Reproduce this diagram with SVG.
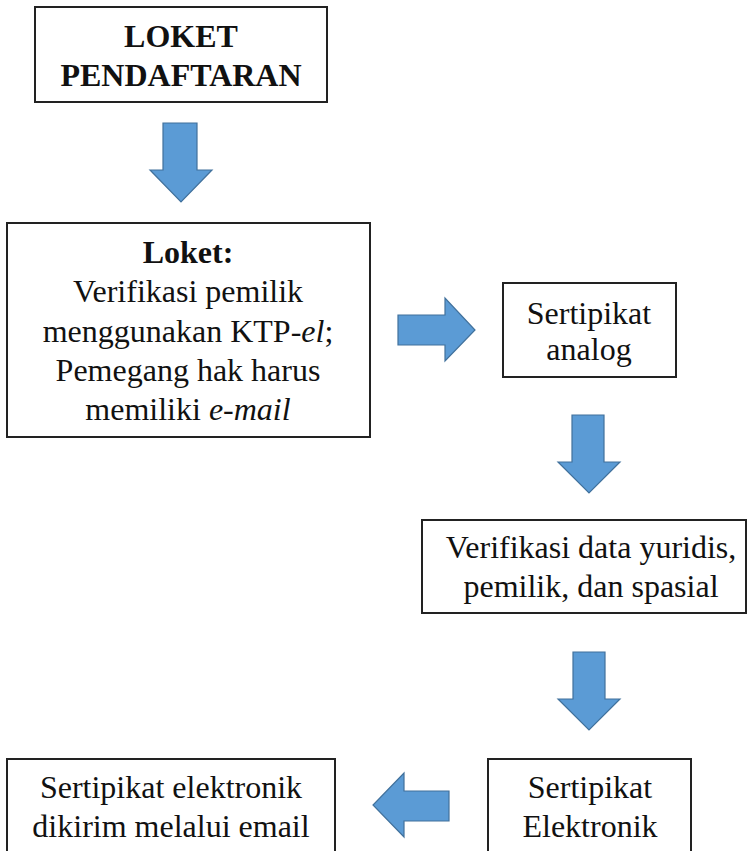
<svg xmlns="http://www.w3.org/2000/svg" width="748" height="851" viewBox="0 0 748 851">
<style>
.box{fill:#fff;stroke:#222;stroke-width:2}
.t{font-family:"Liberation Serif",serif;font-size:32px;fill:#111;text-anchor:middle}
.b{font-weight:bold}
.arr{fill:#5b9bd5;stroke:#41719c;stroke-width:1.2;stroke-linejoin:miter}
</style>
<rect width="748" height="851" fill="#fff"/>
<g id="connectors">
<polygon class="arr" points="163,123 197,123 197,170 212,170 181,202 150,170 163,170"/>
<polygon class="arr" points="398,315 445,315 445,298 475,330 445,361 445,345 398,345"/>
<polygon class="arr" points="572,415 604,415 604,462 620,462 589,493 558,462 572,462"/>
<polygon class="arr" points="573,652 605,652 605,699 620,699 589,730 558,699 573,699"/>
<polygon class="arr" points="449,791 404,791 404,773 373,805 404,837 404,821 449,821"/>
</g>
<g id="node-loket-pendaftaran">
<rect class="box" x="35" y="7" width="292" height="95"/>
<text class="t b" x="181" y="47">LOKET</text>
<text class="t b" x="181" y="86">PENDAFTARAN</text>
</g>
<g id="node-loket">
<rect class="box" x="7" y="223" width="363" height="214"/>
<text class="t b" x="188" y="263">Loket:</text>
<text class="t" x="188" y="302">Verifikasi pemilik</text>
<text class="t" x="188" y="342">menggunakan KTP-<tspan font-style="italic">el</tspan>;</text>
<text class="t" x="188" y="381">Pemegang hak harus</text>
<text class="t" x="188" y="420">memiliki <tspan font-style="italic">e-mail</tspan></text>
</g>
<g id="node-sertipikat-analog">
<rect class="box" x="503" y="283" width="173" height="94"/>
<text class="t" x="589" y="324">Sertipikat</text>
<text class="t" x="589" y="360">analog</text>
</g>
<g id="node-verifikasi">
<rect class="box" x="422" y="520" width="324" height="93"/>
<text class="t" x="591" y="558">Verifikasi data yuridis,</text>
<text class="t" x="591" y="597">pemilik, dan spasial</text>
</g>
<g id="node-sertipikat-elektronik">
<rect class="box" x="488" y="759" width="203" height="100"/>
<text class="t" x="590" y="798">Sertipikat</text>
<text class="t" x="590" y="837">Elektronik</text>
</g>
<g id="node-dikirim">
<rect class="box" x="7" y="759" width="328" height="100"/>
<text class="t" x="171" y="798">Sertipikat elektronik</text>
<text class="t" x="171" y="837">dikirim melalui email</text>
</g>
</svg>
